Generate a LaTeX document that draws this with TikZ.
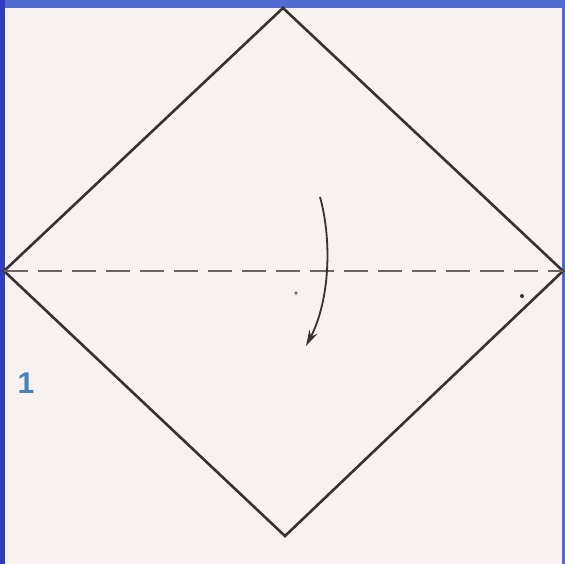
\documentclass[tikz,border=0pt]{standalone}
\usepackage{fontspec}
\setmainfont{Liberation Sans}
\usetikzlibrary{arrows.meta, positioning}
\definecolor{framblue}{RGB}{80,106,208}
\definecolor{sideblue}{RGB}{50,60,190}
\definecolor{paper}{RGB}{247,241,239}
\definecolor{folddark}{RGB}{55,50,45}
\definecolor{numblue}{RGB}{70,130,190}
\tikzset{
  edge/.style={draw=folddark, line width=2.6pt, line join=miter},
  valley/.style={draw=folddark!75, line width=1.6pt, dash pattern=on 24pt off 10pt},
  foldarrow/.style={-{Stealth[length=16pt, width=9pt]}, draw=folddark, line width=1.8pt},
  stepnum/.style={font=\bfseries\fontsize{30}{30}\selectfont, text=numblue}
}
\begin{document}
\begin{tikzpicture}[x=1pt, y=-1pt]
  \useasboundingbox (0,0) rectangle (565,564);
  % Paper and frame
  \fill[paper] (0,0) rectangle (565,564);
  \fill[framblue] (0,0) rectangle (565,8);
  \fill[sideblue] (0,0) rectangle (5,564);
  \fill[framblue] (562,0) rectangle (565,564);

  % Square turned on its corner
  \coordinate (top) at (283,8);
  \coordinate (left) at (4,271);
  \coordinate (right) at (563,271);
  \coordinate (bottom) at (285,536);
  \draw[edge] (left) -- (top) -- (right) -- (bottom) -- cycle;

  % Fold line and arrow
  \draw[valley] (left) -- (right);
  \coordinate (arrstart) at (320,197);
  \coordinate (arrend) at (306,346);
  \draw[foldarrow] (arrstart) .. controls (332,240) and (330,300) .. (arrend);

  % Small dots
  \fill[folddark!70] (296,293) circle (1.8pt);
  \fill[folddark] (522,296) circle (2pt);

  % Step number
  \node[stepnum] (stepone) at (26,383) {1};
\end{tikzpicture}
\end{document}
